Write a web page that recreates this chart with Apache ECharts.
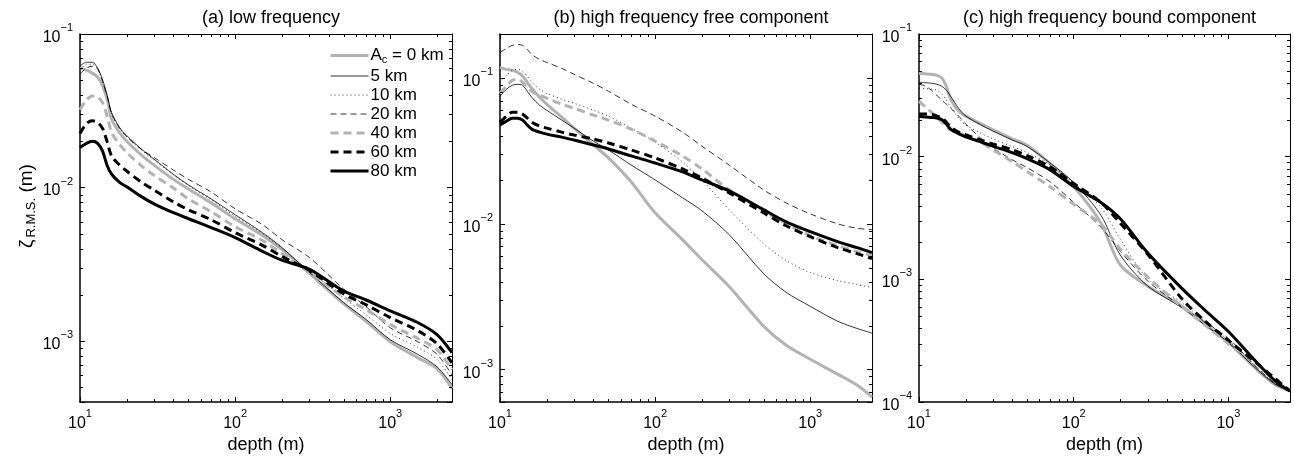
<!DOCTYPE html>
<html>
<head>
<meta charset="utf-8">
<script src="https://cdn.jsdelivr.net/npm/echarts@6/dist/echarts.min.js"></script>
<style>
  html, body { margin: 0; padding: 0; background: #fff; }
  #chart { width: 1294px; height: 459px; }
</style>
</head>
<body>
<div id="chart"></div>
<script>
// depth samples (m), shared by every curve
const depth = [10, 11, 12, 13, 14, 15, 16, 18, 20, 25, 30, 40, 50, 70, 100, 150, 200, 300, 500, 700, 1000, 1500, 2000, 2500];

const names = ['Ac = 0 km', '5 km', '10 km', '20 km', '40 km', '60 km', '80 km'];

// (a) low frequency
const low0 = [0.0599, 0.0582, 0.0556, 0.0524, 0.0458, 0.0372, 0.0277, 0.0228, 0.0200, 0.0162, 0.0140, 0.0113, 0.00978, 0.00794, 0.00626, 0.00487, 0.00395, 0.00277, 0.00175, 0.00134, 0.00099, 0.00078, 0.00066, 0.00049];
const low5 = [0.0617, 0.0655, 0.0655, 0.0599, 0.0501, 0.0395, 0.0307, 0.0246, 0.0218, 0.0177, 0.0153, 0.0122, 0.0104, 0.00843, 0.00665, 0.00508, 0.00407, 0.00281, 0.00178, 0.00138, 0.00102, 0.00082, 0.00068, 0.00052];
const low10 = [0.0582, 0.0636, 0.0636, 0.0590, 0.0488, 0.0390, 0.0302, 0.0243, 0.0214, 0.0175, 0.0151, 0.0121, 0.0103, 0.00830, 0.00650, 0.00501, 0.00401, 0.00285, 0.00191, 0.00148, 0.00112, 0.00091, 0.00076, 0.00056];
const low20 = [0.0548, 0.0600, 0.0617, 0.0590, 0.0488, 0.0390, 0.0302, 0.0243, 0.0214, 0.0177, 0.0157, 0.0130, 0.0113, 0.00935, 0.00727, 0.00573, 0.00458, 0.00351, 0.00218, 0.00167, 0.00122, 0.00099, 0.00082, 0.00060];
const low40 = [0.0321, 0.0372, 0.0395, 0.0389, 0.0356, 0.0289, 0.0228, 0.0191, 0.0169, 0.0138, 0.0120, 0.00993, 0.00843, 0.00695, 0.00556, 0.00452, 0.00372, 0.00281, 0.00194, 0.00160, 0.00128, 0.00104, 0.00088, 0.00065];
const low60 = [0.0225, 0.0261, 0.0272, 0.0265, 0.0242, 0.0197, 0.0160, 0.0140, 0.0128, 0.0108, 0.00964, 0.00806, 0.00716, 0.00617, 0.00508, 0.00420, 0.00356, 0.00289, 0.00203, 0.00172, 0.00142, 0.00117, 0.00096, 0.00072];
const low80 = [0.0182, 0.0194, 0.0200, 0.0194, 0.0172, 0.0138, 0.0122, 0.0108, 0.0101, 0.00869, 0.00783, 0.00685, 0.00626, 0.00548, 0.00472, 0.00384, 0.00336, 0.00294, 0.00212, 0.00185, 0.00157, 0.00132, 0.00110, 0.00084];

// (b) high frequency free component
const free0 = [0.1181, 0.1145, 0.1127, 0.1092, 0.1026, 0.0933, 0.0849, 0.0738, 0.0661, 0.0538, 0.0453, 0.0347, 0.0283, 0.0194, 0.0119, 0.00779, 0.00569, 0.00372, 0.00199, 0.00147, 0.00118, 0.000933, 0.000785, 0.000650];
const free5 = [0.0749, 0.0836, 0.0890, 0.0904, 0.0890, 0.0810, 0.0738, 0.0650, 0.0601, 0.0514, 0.0453, 0.0369, 0.0321, 0.0253, 0.0200, 0.0151, 0.0123, 0.00843, 0.00456, 0.00339, 0.00272, 0.00215, 0.00192, 0.00178];
const free10 = [0.0933, 0.1042, 0.1127, 0.1145, 0.1109, 0.1026, 0.0933, 0.0836, 0.0785, 0.0714, 0.0671, 0.0601, 0.0547, 0.0453, 0.0363, 0.0265, 0.0200, 0.0125, 0.00731, 0.00560, 0.00464, 0.00409, 0.00384, 0.00366];
const free20 = [0.1496, 0.159, 0.167, 0.1695, 0.167, 0.1567, 0.145, 0.134, 0.1277, 0.1163, 0.1059, 0.0919, 0.0811, 0.0661, 0.0547, 0.0425, 0.0341, 0.0253, 0.0171, 0.0139, 0.0117, 0.0100, 0.00933, 0.00912];
const free40 = [0.0785, 0.0877, 0.0963, 0.0978, 0.0933, 0.0863, 0.0810, 0.0761, 0.0726, 0.0661, 0.0620, 0.0556, 0.0514, 0.0446, 0.0369, 0.0292, 0.0238, 0.0171, 0.0123, 0.0100, 0.00830, 0.00709, 0.00645, 0.00606];
const free60 = [0.0498, 0.0547, 0.0582, 0.0582, 0.0565, 0.0530, 0.0498, 0.0468, 0.0453, 0.0425, 0.0406, 0.0381, 0.0358, 0.0321, 0.0283, 0.0238, 0.0206, 0.0163, 0.0119, 0.00970, 0.00816, 0.00687, 0.00625, 0.00578];
const free80 = [0.0475, 0.0506, 0.0530, 0.0530, 0.0514, 0.0475, 0.0446, 0.0425, 0.0412, 0.0393, 0.0375, 0.0347, 0.0326, 0.0292, 0.0261, 0.0227, 0.0200, 0.0168, 0.0125, 0.0103, 0.00883, 0.00755, 0.00687, 0.00635];

// (c) high frequency bound component
const bound0 = [0.0479, 0.0474, 0.0470, 0.0461, 0.0440, 0.0376, 0.0295, 0.0236, 0.0215, 0.0186, 0.0166, 0.0140, 0.0124, 0.00881, 0.00571, 0.00287, 0.00131, 0.000885, 0.000604, 0.000434, 0.000306, 0.000188, 0.000139, 0.000123];
const bound5 = [0.0405, 0.0401, 0.0397, 0.0390, 0.0376, 0.0349, 0.0312, 0.0249, 0.0215, 0.0182, 0.0162, 0.0137, 0.0121, 0.00894, 0.00616, 0.00333, 0.00158, 0.000886, 0.000588, 0.000428, 0.000306, 0.000189, 0.000140, 0.000123];
const bound10 = [0.0362, 0.0359, 0.0355, 0.0349, 0.0324, 0.0289, 0.0254, 0.0207, 0.0182, 0.0156, 0.0140, 0.0121, 0.0108, 0.00861, 0.00616, 0.00386, 0.00213, 0.00101, 0.000645, 0.000461, 0.000318, 0.000196, 0.000142, 0.000125];
const bound20 = [0.0390, 0.0376, 0.0349, 0.0318, 0.0289, 0.0269, 0.0249, 0.0215, 0.0185, 0.0142, 0.0118, 0.00945, 0.00814, 0.00627, 0.00424, 0.00266, 0.00170, 0.000973, 0.000599, 0.000453, 0.000330, 0.000196, 0.000142, 0.000123];
const bound40 = [0.0284, 0.0254, 0.0231, 0.0211, 0.0192, 0.0175, 0.0165, 0.0156, 0.0148, 0.0131, 0.0114, 0.00911, 0.00756, 0.00571, 0.00409, 0.00281, 0.00177, 0.00105, 0.000599, 0.000428, 0.000300, 0.000211, 0.000151, 0.000125];
const bound60 = [0.0223, 0.0223, 0.0221, 0.0215, 0.0207, 0.0192, 0.0175, 0.0159, 0.0151, 0.0137, 0.0127, 0.0114, 0.0102, 0.00830, 0.00604, 0.00424, 0.00287, 0.00161, 0.000695, 0.000461, 0.000318, 0.000211, 0.000156, 0.000123];
const bound80 = [0.0213, 0.0211, 0.0209, 0.0207, 0.0201, 0.0185, 0.0168, 0.0154, 0.0145, 0.0132, 0.0122, 0.0108, 0.00963, 0.00785, 0.00571, 0.00424, 0.00312, 0.00165, 0.000845, 0.000566, 0.000376, 0.000215, 0.000149, 0.000123];

// minor tick positions (log axes)
const minorDepth = [20, 30, 40, 50, 60, 70, 80, 90, 200, 300, 400, 500, 600, 700, 800, 900, 2000];
const minorLow = [0.0005, 0.0006, 0.0007, 0.0008, 0.0009, 0.002, 0.003, 0.004, 0.005, 0.006, 0.007, 0.008, 0.009, 0.02, 0.03, 0.04, 0.05, 0.06, 0.07, 0.08, 0.09];
const minorFree = [0.0007, 0.0008, 0.0009, 0.002, 0.003, 0.004, 0.005, 0.006, 0.007, 0.008, 0.009, 0.02, 0.03, 0.04, 0.05, 0.06, 0.07, 0.08, 0.09];
const minorBound = [0.0002, 0.0003, 0.0004, 0.0005, 0.0006, 0.0007, 0.0008, 0.0009, 0.002, 0.003, 0.004, 0.005, 0.006, 0.007, 0.008, 0.009, 0.02, 0.03, 0.04, 0.05, 0.06, 0.07, 0.08, 0.09];

const FONT = '"Liberation Sans", Arial, Helvetica, sans-serif';
const GREY = '#b3b3b3';

const styles = [
  { color: GREY, width: 3, type: 'solid' },
  { color: '#000', width: 0.8, type: 'solid' },
  { color: '#000', width: 0.8, type: [1, 3] },
  { color: '#000', width: 0.8, type: [6, 4] },
  { color: GREY, width: 3, type: [8, 5] },
  { color: '#000', width: 3, type: [8, 5] },
  { color: '#000', width: 3, type: 'solid' }
];

const panels = [
  { title: '(a) low frequency', curves: [low0, low5, low10, low20, low40, low60, low80], yMin: 0.0004, yMax: 0.1, minor: minorLow },
  { title: '(b) high frequency free component', curves: [free0, free5, free10, free20, free40, free60, free80], yMin: 0.0006, yMax: 0.2, minor: minorFree },
  { title: '(c) high frequency bound component', curves: [bound0, bound5, bound10, bound20, bound40, bound60, bound80], yMin: 0.0001, yMax: 0.1, minor: minorBound }
];

const grids = [
  { left: 80, top: 34, width: 372, height: 370 },
  { left: 500, top: 34, width: 372, height: 370 },
  { left: 919, top: 34, width: 371, height: 370 }
];

const powRich = {
  b: { fontSize: 16, fontFamily: FONT, color: '#000', padding: [7, 0, 0, 0] },
  s: { fontSize: 11, fontFamily: FONT, color: '#000', verticalAlign: 'top' }
};

function powLabel(v) {
  const e = Math.log10(v);
  const r = Math.round(e);
  if (Math.abs(e - r) > 1e-6) return '';
  return '{b|10}{s|' + (r < 0 ? '\u2212' + (-r) : r) + '}';
}

const xAxes = [], yAxes = [], series = [];

panels.forEach((p, i) => {
  xAxes.push({
    type: 'log', logBase: 10, gridIndex: i, min: 10, max: 2500, position: 'bottom',
    axisLine: { onZero: false, lineStyle: { color: '#000', width: 1.5 } },
    axisTick: { inside: true, length: 5, lineStyle: { color: '#000', width: 1 } },
    axisLabel: { formatter: powLabel, margin: 6, rich: powRich },
    splitLine: { show: false },
    name: 'depth (m)', nameLocation: 'middle', nameGap: 30,
    nameTextStyle: { fontSize: 18, fontFamily: FONT, color: '#000' }
  });
  xAxes.push({
    type: 'log', logBase: 10, gridIndex: i, min: 10, max: 2500, position: 'top',
    axisLine: { onZero: false, lineStyle: { color: '#000', width: 1 } },
    axisTick: { inside: true, length: 5, lineStyle: { color: '#000', width: 1 } },
    axisLabel: { show: false },
    splitLine: { show: false }
  });
  const left = {
    type: 'log', logBase: 10, gridIndex: i, min: p.yMin, max: p.yMax, position: 'left',
    axisLine: { onZero: false, lineStyle: { color: '#000', width: 1.5 } },
    axisTick: { inside: true, length: 5, lineStyle: { color: '#000', width: 1 } },
    axisLabel: { formatter: powLabel, margin: 7, rich: powRich },
    splitLine: { show: false }
  };
  if (i === 0) {
    left.name = '{z|\u03b6}{s|R.M.S.}{z| (m)}';
    left.nameLocation = 'middle';
    left.nameRotate = 90;
    left.nameGap = 42;
    left.nameTextStyle = {
      padding: [0, 0, 0, 24],
      rich: {
        z: { fontSize: 19, fontFamily: FONT, color: '#000' },
        s: { fontSize: 13, fontFamily: FONT, color: '#000', padding: [9, 0, 0, 2] }
      }
    };
  }
  yAxes.push(left);
  yAxes.push({
    type: 'log', logBase: 10, gridIndex: i, min: p.yMin, max: p.yMax, position: 'right',
    axisLine: { onZero: false, lineStyle: { color: '#000', width: 1 } },
    axisTick: { inside: true, length: 5, lineStyle: { color: '#000', width: 1 } },
    axisLabel: { show: false },
    splitLine: { show: false }
  });

  p.curves.forEach((vals, k) => {
    series.push({
      name: names[k], type: 'line', xAxisIndex: 2 * i, yAxisIndex: 2 * i,
      data: depth.map((d, j) => [d, vals[j]]),
      showSymbol: false, symbol: 'none', smooth: 0.3,
      lineStyle: styles[k], itemStyle: { color: styles[k].color },
      emphasis: { disabled: true }, silent: true, z: 2 + k
    });
  });

  // minor ticks, placed through the axes' own scales
  const tickData = minorDepth.map(d => [d, p.yMin, 0]).concat(p.minor.map(v => [10, v, 1]));
  series.push({
    type: 'custom', xAxisIndex: 2 * i, yAxisIndex: 2 * i, silent: true, z: 20, clip: false,
    data: tickData,
    renderItem: (params, api) => {
      const cs = params.coordSys;
      const pt = api.coord([api.value(0), api.value(1)]);
      const st = { stroke: '#000', lineWidth: 1 };
      if (api.value(2) === 0) {
        const x = Math.round(pt[0]) + 0.5;
        return { type: 'group', children: [
          { type: 'line', shape: { x1: x, y1: cs.y + cs.height, x2: x, y2: cs.y + cs.height - 3 }, style: st },
          { type: 'line', shape: { x1: x, y1: cs.y, x2: x, y2: cs.y + 3 }, style: st }
        ] };
      }
      const y = Math.round(pt[1]) + 0.5;
      return { type: 'group', children: [
        { type: 'line', shape: { x1: cs.x, y1: y, x2: cs.x + 3, y2: y }, style: st },
        { type: 'line', shape: { x1: cs.x + cs.width, y1: y, x2: cs.x + cs.width - 3, y2: y }, style: st }
      ] };
    }
  });
});

const chart = echarts.init(document.getElementById('chart'), null, { renderer: 'canvas' });
chart.setOption({
  animation: false,
  backgroundColor: '#fff',
  title: panels.map((p, i) => ({
    text: p.title,
    left: grids[i].left + grids[i].width / 2,
    top: 4,
    textAlign: 'center',
    textStyle: { fontSize: 18, fontWeight: 'normal', fontFamily: FONT, color: '#000' }
  })),
  grid: grids,
  xAxis: xAxes,
  yAxis: yAxes,
  legend: {
    data: names.map((n, k) => ({
      name: n,
      itemStyle: { opacity: 0 },
      lineStyle: { color: styles[k].color, width: styles[k].width, type: styles[k].type }
    })),
    left: 329, top: 47, orient: 'vertical', padding: 0,
    itemWidth: 38, itemHeight: 14, itemGap: 2,
    selectedMode: false,
    formatter: n => n.indexOf('Ac') === 0 ? '{t|A}{c|c}{t| = 0 km}' : n,
    textStyle: {
      fontSize: 17, fontFamily: FONT, color: '#000', padding: [0, 0, 0, -3],
      rich: {
        t: { fontSize: 17, fontFamily: FONT, color: '#000' },
        c: { fontSize: 11, fontFamily: FONT, color: '#000', padding: [9, 0, 0, 0] }
      }
    }
  },
  series: series
});
</script>
</body>
</html>
